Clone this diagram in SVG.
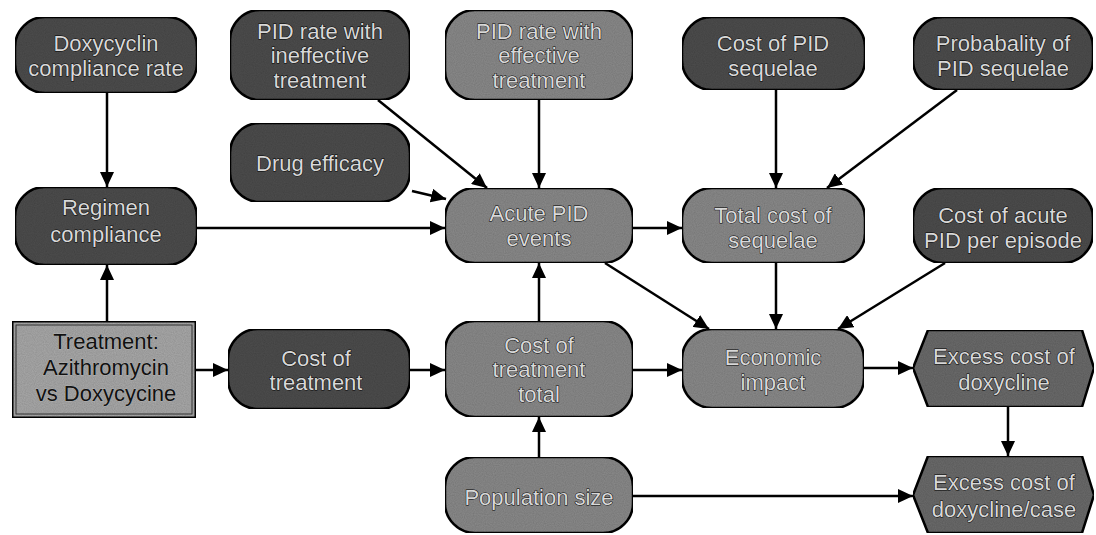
<svg xmlns="http://www.w3.org/2000/svg" width="1096" height="535" viewBox="0 0 1096 535">
<defs>
<marker id="ah" markerUnits="userSpaceOnUse" markerWidth="16" markerHeight="14" refX="15" refY="7" orient="auto">
<path d="M0,0 L15,7 L0,14 z" fill="#000"/>
</marker>
<filter id="grain" x="0" y="0" width="100%" height="100%">
<feTurbulence type="fractalNoise" baseFrequency="0.9" numOctaves="1" seed="3" result="n"/>
<feColorMatrix in="n" type="matrix" values="0 0 0 0 0  0 0 0 0 0  0 0 0 0 0  0 0 0 0.35 0" result="d"/>
<feComposite in="d" in2="SourceGraphic" operator="atop"/>
</filter>
</defs>
<style>
.dk{fill:#4e4e4e;stroke:#000;stroke-width:2.5}
.md{fill:#8c8c8c;stroke:#000;stroke-width:2.5}
.lt{fill:#ababab;stroke:#000;stroke-width:3}
.hx{fill:#6c6c6c;stroke:#000;stroke-width:2.5}
text{font-family:"Liberation Sans",Arial,sans-serif;font-size:22px;text-anchor:middle}
.tl{fill:#d8d8d8;stroke:#000;stroke-width:0.9;paint-order:stroke}
.tb{fill:#111;stroke:#ccc;stroke-width:0.5;paint-order:stroke}
.c line{stroke:#000;stroke-width:2.5;marker-end:url(#ah)}
</style>
<rect width="1096" height="535" fill="#fff"/>
<g class="c" id="connectors">
<line x1="107" y1="93" x2="107" y2="187"/>
<line x1="107" y1="321" x2="107" y2="265"/>
<line x1="197" y1="228" x2="445" y2="228"/>
<line x1="378" y1="100" x2="487" y2="188"/>
<line x1="412" y1="191" x2="446" y2="199"/>
<line x1="539" y1="100" x2="539" y2="188"/>
<line x1="633" y1="228" x2="682" y2="228"/>
<line x1="776" y1="90" x2="776" y2="188"/>
<line x1="957" y1="90" x2="827" y2="188"/>
<line x1="605" y1="263" x2="709" y2="329"/>
<line x1="776" y1="263" x2="776" y2="329"/>
<line x1="945" y1="263" x2="838" y2="329"/>
<line x1="196" y1="370" x2="228" y2="370"/>
<line x1="410" y1="370" x2="445" y2="370"/>
<line x1="539" y1="321" x2="539" y2="263"/>
<line x1="539" y1="457" x2="539" y2="417"/>
<line x1="633" y1="370" x2="682" y2="370"/>
<line x1="864" y1="368" x2="913" y2="368"/>
<line x1="1008" y1="407" x2="1008" y2="456"/>
<line x1="633" y1="496" x2="913" y2="496"/>
</g>
<g id="n-doxy-compliance">
<rect class="dk" x="15" y="17" width="182" height="76" rx="30" filter="url(#grain)"/>
<text class="tl" x="106" y="51">Doxycyclin</text>
<text class="tl" x="106" y="76">compliance rate</text>
</g>
<g id="n-pid-ineffective">
<rect class="dk" x="230" y="10" width="180" height="90" rx="30" filter="url(#grain)"/>
<text class="tl" x="320" y="39">PID rate with</text>
<text class="tl" x="320" y="63">ineffective</text>
<text class="tl" x="320" y="88">treatment</text>
</g>
<g id="n-drug-efficacy">
<rect class="dk" x="230" y="123" width="180" height="79" rx="30" filter="url(#grain)"/>
<text class="tl" x="320" y="171">Drug efficacy</text>
</g>
<g id="n-regimen">
<rect class="dk" x="15" y="187" width="182" height="78" rx="30" filter="url(#grain)"/>
<text class="tl" x="106" y="215">Regimen</text>
<text class="tl" x="106" y="242">compliance</text>
</g>
<g id="n-pid-effective">
<rect class="md" x="445" y="10" width="188" height="90" rx="30" filter="url(#grain)"/>
<text class="tl" x="539" y="39">PID rate with</text>
<text class="tl" x="539" y="63">effective</text>
<text class="tl" x="539" y="88">treatment</text>
</g>
<g id="n-acute-pid">
<rect class="md" x="445" y="188" width="188" height="75" rx="30" filter="url(#grain)"/>
<text class="tl" x="539" y="221">Acute PID</text>
<text class="tl" x="539" y="246">events</text>
</g>
<g id="n-cost-pid-sequelae">
<rect class="dk" x="682" y="17" width="183" height="73" rx="30" filter="url(#grain)"/>
<text class="tl" x="773" y="51">Cost of PID</text>
<text class="tl" x="773" y="76">sequelae</text>
</g>
<g id="n-prob-sequelae">
<rect class="dk" x="913" y="17" width="180" height="73" rx="30" filter="url(#grain)"/>
<text class="tl" x="1003" y="51">Probabality of</text>
<text class="tl" x="1003" y="76">PID sequelae</text>
</g>
<g id="n-total-cost-sequelae">
<rect class="md" x="682" y="188" width="183" height="75" rx="30" filter="url(#grain)"/>
<text class="tl" x="773" y="223">Total cost of</text>
<text class="tl" x="773" y="248">sequelae</text>
</g>
<g id="n-cost-acute">
<rect class="dk" x="913" y="188" width="180" height="75" rx="30" filter="url(#grain)"/>
<text class="tl" x="1003" y="223">Cost of acute</text>
<text class="tl" x="1003" y="248">PID per episode</text>
</g>
<g id="n-treatment">
<rect class="lt" x="12" y="321" width="184" height="97" filter="url(#grain)"/>
<rect x="16" y="325" width="176" height="89" fill="none" stroke="#333" stroke-width="1"/>
<text class="tb" x="106" y="349">Treatment:</text>
<text class="tb" x="106" y="375">Azithromycin</text>
<text class="tb" x="106" y="401">vs Doxycycine</text>
</g>
<g id="n-cost-treatment">
<rect class="dk" x="228" y="329" width="182" height="80" rx="30" filter="url(#grain)"/>
<text class="tl" x="316" y="366">Cost of</text>
<text class="tl" x="316" y="390">treatment</text>
</g>
<g id="n-cost-treatment-total">
<rect class="md" x="445" y="321" width="188" height="96" rx="30" filter="url(#grain)"/>
<text class="tl" x="539" y="353">Cost of</text>
<text class="tl" x="539" y="377">treatment</text>
<text class="tl" x="539" y="402">total</text>
</g>
<g id="n-economic-impact">
<rect class="md" x="682" y="329" width="182" height="79" rx="30" filter="url(#grain)"/>
<text class="tl" x="773" y="365">Economic</text>
<text class="tl" x="773" y="390">impact</text>
</g>
<g id="n-excess-cost">
<polygon class="hx" points="913,368 928,330 1082,330 1094,368 1082,407 928,407" filter="url(#grain)"/>
<text class="tl" x="1004" y="364">Excess cost of</text>
<text class="tl" x="1004" y="390">doxycline</text>
</g>
<g id="n-population">
<rect class="md" x="445" y="457" width="188" height="76" rx="30" filter="url(#grain)"/>
<text class="tl" x="539" y="505">Population size</text>
</g>
<g id="n-excess-cost-case">
<polygon class="hx" points="913,495 928,456 1082,456 1094,495 1082,533 928,533" filter="url(#grain)"/>
<text class="tl" x="1004" y="490">Excess cost of</text>
<text class="tl" x="1004" y="517">doxycline/case</text>
</g>
</svg>
